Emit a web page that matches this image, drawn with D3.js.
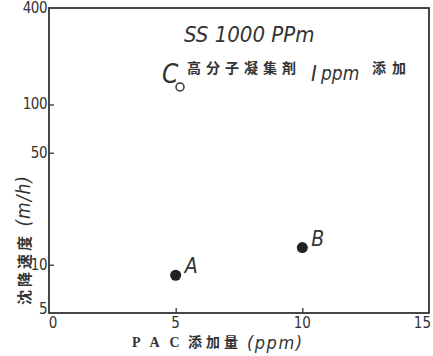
<!DOCTYPE html>
<html><head><meta charset="utf-8">
<script src="https://cdn.jsdelivr.net/npm/d3@7"></script>
<style>body{margin:0;background:#fff}</style>
</head><body>
<svg id="c" width="433" height="356"></svg>
<script>
const pacDose = [5, 10];
const settleSpeed = [8.6, 12.8];
const pointLabels = ["A", "B"];
const xTicks = [0, 5, 10, 15];
const yTicks = [5, 10, 50, 100, 400];

const svg = d3.select("#c");
const L = 49, R = 429, T = 8, B = 313;
const x = d3.scaleLinear().domain([0, 15]).range([L, R]);
const y = d3.scaleLog().domain([5, 400]).range([B, T]);
const ink = "#333";
const font = "'DejaVu Sans Condensed','DejaVu Sans',sans-serif";
const cjk = "'Noto Sans CJK JP',sans-serif";

svg.append("rect").attr("x", L).attr("y", T).attr("width", R - L).attr("height", B - T)
  .attr("fill", "none").attr("stroke", ink).attr("stroke-width", 1.8);

const gx = svg.append("g").attr("transform", `translate(0,${B})`)
  .call(d3.axisTop(x).tickValues(xTicks.slice(1, 3)).tickSize(5).tickFormat(""));
gx.select(".domain").remove();
gx.selectAll("line").attr("stroke", ink).attr("stroke-width", 1.3);
svg.selectAll(".xl").data(xTicks).join("text")
  .attr("x", d => d === 0 ? x(d) + 4 : d === 15 ? x(d) + 2 : x(d))
  .attr("y", B + 15)
  .attr("text-anchor", d => d === 15 ? "end" : "middle")
  .attr("font-family", font).attr("font-stretch", "condensed").attr("font-size", 15)
  .attr("fill", ink).text(d => d);

const gy = svg.append("g").attr("transform", `translate(${L},0)`)
  .call(d3.axisRight(y).tickValues(yTicks.slice(1, 4)).tickSize(5).tickFormat(""));
gy.select(".domain").remove();
gy.selectAll("line").attr("stroke", ink).attr("stroke-width", 1.3);
svg.selectAll(".yl").data(yTicks).join("text")
  .attr("x", L - 2).attr("y", d => y(d) + (d === 5 ? 1 : 5))
  .attr("text-anchor", "end").attr("font-family", font).attr("font-stretch", "condensed")
  .attr("font-size", 15).attr("letter-spacing", -0.5)
  .attr("fill", ink).text(d => d);

svg.selectAll(".pt").data(pacDose).join("circle")
  .attr("cx", d => x(d)).attr("cy", (d, i) => y(settleSpeed[i])).attr("r", 5.5)
  .attr("fill", "#222");
svg.selectAll(".pl").data(pacDose).join("text")
  .attr("x", d => x(d) + 9).attr("y", (d, i) => y(settleSpeed[i]) - 2)
  .attr("font-family", font).attr("font-stretch", "condensed").attr("font-style", "italic")
  .attr("font-size", 21).attr("fill", ink).text((d, i) => pointLabels[i]);

// annotations
svg.append("text").attr("x", 184).attr("y", 42).attr("font-family", font)
  .attr("font-stretch", "condensed").attr("font-style", "italic").attr("font-size", 22)
  .attr("fill", ink).text("SS 1000 PPm");
svg.append("text").attr("x", 162).attr("y", 83).attr("font-family", font)
  .attr("font-stretch", "condensed").attr("font-style", "italic").attr("font-size", 26)
  .attr("fill", ink).text("C");
svg.append("circle").attr("cx", 180).attr("cy", 87).attr("r", 4)
  .attr("fill", "none").attr("stroke", ink).attr("stroke-width", 1.5);
svg.append("text").attr("x", 187).attr("y", 73).attr("font-family", cjk)
  .attr("font-size", 14).attr("font-weight", "bold").attr("fill", ink)
  .attr("letter-spacing", 5).text("高分子凝集剤");
svg.append("text").attr("x", 311).attr("y", 81).attr("font-family", font)
  .attr("font-style", "italic").attr("font-size", 22).attr("fill", ink).text("I");
svg.append("text").attr("x", 321).attr("y", 80).attr("font-family", font)
  .attr("font-stretch", "condensed").attr("font-style", "italic").attr("font-size", 19)
  .attr("fill", ink).text("ppm");
svg.append("text").attr("x", 372).attr("y", 73).attr("font-family", cjk)
  .attr("font-size", 14).attr("font-weight", "bold").attr("fill", ink)
  .attr("letter-spacing", 6).text("添加");

// axis titles
const yt = svg.append("text").attr("transform", "translate(30,240) rotate(-90)")
  .attr("text-anchor", "middle").attr("fill", ink);
yt.append("tspan").attr("font-family", cjk).attr("font-size", 15).attr("font-weight", "bold")
  .attr("letter-spacing", 3).text("沈降速度 ");
yt.append("tspan").attr("font-family", font).attr("font-stretch", "condensed")
  .attr("font-style", "italic").attr("font-size", 19).attr("letter-spacing", 1).text("(m/h)");

svg.append("text").attr("x", 132).attr("y", 347).attr("fill", ink)
  .attr("font-family", "'Liberation Serif',serif").attr("font-weight", "bold")
  .attr("font-size", 14).attr("letter-spacing", 10).text("PAC");
svg.append("text").attr("x", 188).attr("y", 347).attr("fill", ink)
  .attr("font-family", cjk).attr("font-size", 14).attr("font-weight", "bold")
  .attr("letter-spacing", 4).text("添加量");
svg.append("text").attr("x", 247).attr("y", 349).attr("fill", ink)
  .attr("font-family", font).attr("font-stretch", "condensed")
  .attr("font-style", "italic").attr("font-size", 18).attr("letter-spacing", 1.5).text("(ppm)");
</script>
</body></html>
